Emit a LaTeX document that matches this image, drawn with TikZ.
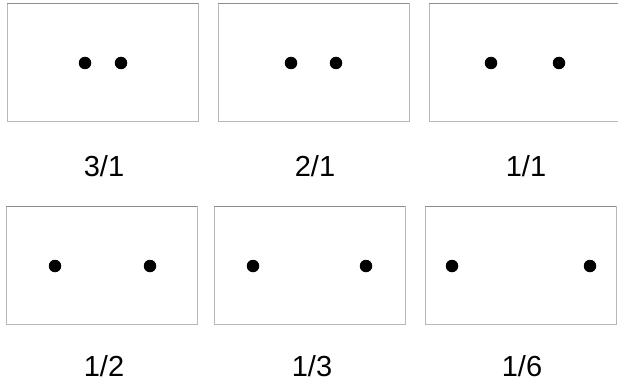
\documentclass[tikz,border=0pt]{standalone}
\usepackage{fontspec}
\setmainfont{Liberation Sans}
\begin{document}
\begin{tikzpicture}[x=1pt,y=-1pt,
  frame/.style={draw=black!28,line width=1pt,minimum width=191pt,minimum height=118pt,inner sep=0pt,outer sep=0pt},
  dot/.style={circle,fill=black,inner sep=0pt,minimum size=12.5pt},
  lab/.style={font=\fontsize{29}{30}\selectfont,inner sep=0pt,anchor=base}]
\useasboundingbox (0,0) rectangle (618,385);
\fill[white] (0,0) rectangle (618,385);
% top row
\node[frame] (b1) at (102.5,63) {};
\node[frame] (b2) at (313.5,63) {};
\node[frame] (b3) at (524.5,63) {};
% bottom row
\node[frame] (b4) at (101.5,265.5) {};
\node[frame] (b5) at (309.5,265.5) {};
\node[frame] (b6) at (520.5,265.5) {};
\foreach \b in {b1,b2,b3,b4,b5,b6}{
  \draw[black!45,line width=1pt] (\b.north west) -- (\b.north east);
}
% dots
\node[dot] (d1a) at (85,63) {};
\node[dot] (d1b) at (121,63) {};
\node[dot] (d2a) at (291,63) {};
\node[dot] (d2b) at (336,63) {};
\node[dot] (d3a) at (491,63) {};
\node[dot] (d3b) at (559,63) {};
\node[dot] (d4a) at (55,266) {};
\node[dot] (d4b) at (150,266) {};
\node[dot] (d5a) at (253,266) {};
\node[dot] (d5b) at (366,266) {};
\node[dot] (d6a) at (452,266) {};
\node[dot] (d6b) at (590,266) {};
% labels
\node[lab] (l1) at (104,176.5) {3/1};
\node[lab] (l2) at (315,176.5) {2/1};
\node[lab] (l3) at (526,176.5) {1/1};
\node[lab] (l4) at (104,376.5) {1/2};
\node[lab] (l5) at (312,376.5) {1/3};
\node[lab] (l6) at (522,376.5) {1/6};
\end{tikzpicture}
\end{document}
